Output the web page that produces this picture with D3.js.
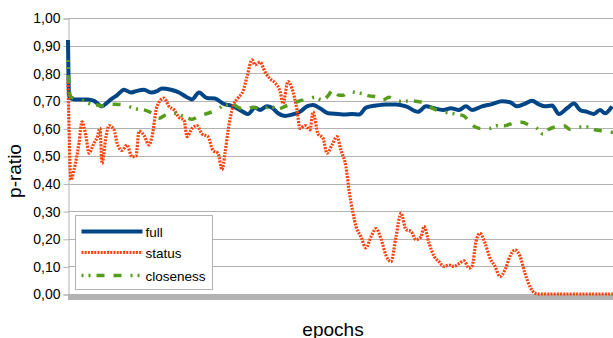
<!DOCTYPE html>
<html>
<head>
<meta charset="utf-8">
<script src="https://cdn.jsdelivr.net/npm/d3@7"></script>
<style>
  body { margin: 0; background: #fff; }
  svg { display: block; font-family: "Liberation Sans", Arial, sans-serif; }
</style>
</head>
<body>
<svg id="chart" width="613" height="338"></svg>
<script>
// values, epoch index vs p-ratio
var fullEpochs = [0,1,2,7,13,20,26,34,38,43,49,56,63,68,76,83,89,94,103,111,118,124,131,139,147,155,165,175,180,187,192,199,204,210,217,224,232,239,245,252,260,270,277,284,291,298,308,318,328,338,350,358,366,375,383,391,398,404,414,424,434,442,449,456,464,471,477,484,491,499,506,512,519,526,532,537,544];
var fullValues = [0.92,0.72,0.71,0.705,0.705,0.705,0.70,0.68,0.69,0.705,0.72,0.74,0.73,0.735,0.74,0.73,0.735,0.745,0.74,0.73,0.715,0.705,0.73,0.71,0.708,0.69,0.68,0.66,0.652,0.675,0.667,0.68,0.675,0.655,0.645,0.65,0.66,0.68,0.685,0.673,0.655,0.652,0.65,0.652,0.65,0.675,0.683,0.687,0.687,0.68,0.66,0.68,0.673,0.667,0.673,0.667,0.68,0.667,0.68,0.688,0.698,0.695,0.68,0.688,0.70,0.687,0.68,0.683,0.652,0.673,0.69,0.667,0.66,0.652,0.667,0.655,0.68];

var statusEpochs = [0,3,6,11,14,18,21,26,29,32,34,38,41,46,49,54,59,64,68,71,76,81,84,89,96,101,106,111,116,119,124,129,134,140,145,150,154,157,160,165,170,175,179,184,187,192,197,202,207,212,215,220,224,229,232,237,242,245,250,255,259,264,269,273,278,281,285,288,293,298,303,308,313,318,323,328,333,338,343,348,353,356,361,366,371,376,381,386,391,396,401,404,408,412,417,422,427,432,437,442,447,452,457,462,467,471,545];
var statusValues = [0.78,0.413,0.45,0.547,0.624,0.57,0.51,0.547,0.565,0.60,0.473,0.57,0.61,0.595,0.547,0.52,0.54,0.497,0.50,0.59,0.575,0.54,0.57,0.68,0.71,0.68,0.667,0.64,0.63,0.57,0.60,0.61,0.58,0.57,0.52,0.51,0.45,0.51,0.59,0.68,0.71,0.735,0.787,0.848,0.83,0.84,0.805,0.78,0.765,0.735,0.69,0.77,0.745,0.667,0.60,0.61,0.595,0.66,0.58,0.565,0.51,0.54,0.57,0.52,0.46,0.377,0.293,0.245,0.207,0.167,0.207,0.237,0.20,0.14,0.117,0.207,0.293,0.233,0.227,0.197,0.207,0.245,0.185,0.137,0.117,0.10,0.105,0.10,0.11,0.12,0.094,0.10,0.19,0.22,0.185,0.13,0.10,0.063,0.087,0.137,0.16,0.137,0.075,0.026,0.003,0,0];

var closenessEpochs = [0,1,3,13,23,29,36,43,49,56,63,69,76,84,91,98,104,111,118,124,131,140,149,157,165,172,179,185,194,202,210,217,225,232,240,247,254,260,265,271,275,281,288,295,301,308,315,321,328,335,341,348,355,361,368,375,383,391,396,401,405,412,421,429,437,446,454,462,469,475,481,489,496,502,511,519,527,536,542,545];
var closenessValues = [0.848,0.75,0.713,0.705,0.688,0.685,0.68,0.688,0.687,0.685,0.677,0.67,0.667,0.655,0.637,0.65,0.657,0.65,0.64,0.633,0.645,0.655,0.667,0.685,0.685,0.673,0.67,0.677,0.667,0.68,0.67,0.68,0.69,0.70,0.705,0.713,0.703,0.718,0.74,0.72,0.72,0.733,0.73,0.725,0.718,0.715,0.703,0.713,0.70,0.697,0.70,0.698,0.693,0.68,0.667,0.66,0.655,0.65,0.645,0.625,0.61,0.60,0.60,0.61,0.61,0.62,0.622,0.61,0.60,0.58,0.597,0.607,0.61,0.597,0.605,0.605,0.595,0.59,0.587,0.585];

var yTicks = [0,0.1,0.2,0.3,0.4,0.5,0.6,0.7,0.8,0.9,1.0];
var seriesNames = ["full", "status", "closeness"];

var svg = d3.select("#chart");
// note: "top" is taken by window.top, so plot edges get their own names
var plotLeft = 68, plotRight = 613, plotTop = 18, plotBottom = 294;

var x = d3.scaleLinear().domain([0, 545]).range([plotLeft, plotRight]);
var y = d3.scaleLinear().domain([0, 1]).range([plotBottom, plotTop]);

// gridlines
svg.append("g").selectAll("line")
    .data(yTicks.slice(1))
    .enter().append("line")
        .attr("x1", plotLeft).attr("x2", plotRight)
        .attr("y1", d => Math.round(y(d)) + 0.5)
        .attr("y2", d => Math.round(y(d)) + 0.5)
        .attr("stroke", "#b3b3b3").attr("stroke-width", 1);

// y axis
var yAxis = svg.append("g")
    .attr("transform", "translate(" + (plotLeft + 0.5) + ",0.5)")
    .call(d3.axisLeft(y).tickValues(yTicks).tickSize(5).tickPadding(3)
        .tickFormat(d => d.toFixed(2).replace(".", ",")));
yAxis.selectAll("path, line").attr("stroke", "#b3b3b3");
yAxis.selectAll("text").attr("font-size", "14px").attr("fill", "#000")
    .attr("font-family", "Liberation Sans, Arial, sans-serif");

// x axis: one tick per epoch, which shows up as a grey band
var xAxis = svg.append("g")
    .attr("transform", "translate(0," + plotBottom + ")")
    .call(d3.axisBottom(x).tickValues(d3.range(0, 546, 1)).tickSize(6).tickFormat(""));
xAxis.select("path").attr("stroke", "#b3b3b3");
xAxis.selectAll("line").attr("stroke", "#b3b3b3");

// lines
var line = d3.line()
    .x(d => x(d[0]))
    .y(d => y(d[1]))
    .curve(d3.curveMonotoneX);

var series = [
    {name: "full", data: d3.zip(fullEpochs, fullValues), color: "#004586", width: 4, dash: null},
    {name: "status", data: d3.zip(statusEpochs, statusValues), color: "#ff420e", width: 3.2, dash: "2,1.2"},
    {name: "closeness", data: d3.zip(closenessEpochs, closenessValues), color: "#579d1c", width: 3.5, dash: "2,5,2,6,8,9,8,9"}
];

svg.append("g").selectAll("path")
    .data(series)
    .enter().append("path")
        .attr("d", s => line(s.data))
        .attr("fill", "none")
        .attr("stroke", s => s.color)
        .attr("stroke-width", s => s.width)
        .attr("stroke-dasharray", s => s.dash);

// legend
var legend = svg.append("g").attr("transform", "translate(75.5,215.5)");
legend.append("rect")
    .attr("width", 137).attr("height", 74)
    .attr("fill", "#fff").attr("stroke", "#b3b3b3");
var legendRows = [16, 37, 60];
series.forEach(function (s, i) {
    legend.append("line")
        .attr("x1", 6).attr("x2", 67)
        .attr("y1", legendRows[i]).attr("y2", legendRows[i])
        .attr("stroke", s.color)
        .attr("stroke-width", s.width)
        .attr("stroke-dasharray", s.dash);
    legend.append("text")
        .attr("x", 70).attr("y", legendRows[i] + 5)
        .attr("font-size", "13.5px")
        .text(seriesNames[i]);
});

// axis titles
svg.append("text")
    .attr("transform", "translate(21,171) rotate(-90)")
    .attr("text-anchor", "middle")
    .attr("font-size", "19px")
    .text("p-ratio");
svg.append("text")
    .attr("x", 333).attr("y", 336)
    .attr("text-anchor", "middle")
    .attr("font-size", "19px")
    .text("epochs");
</script>
</body>
</html>
